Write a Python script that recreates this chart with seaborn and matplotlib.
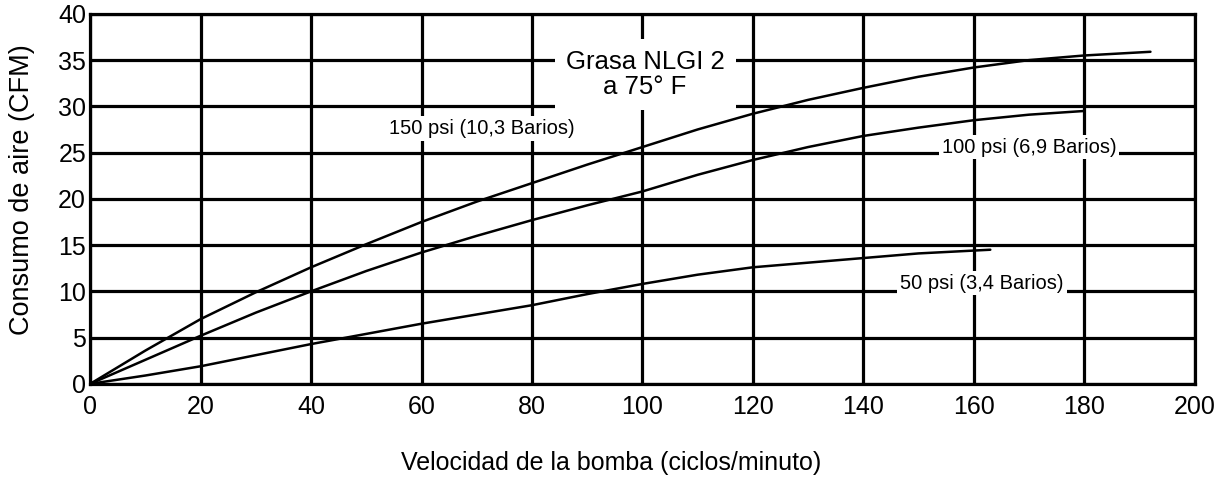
import matplotlib
matplotlib.use("Agg")
import matplotlib.pyplot as plt
import seaborn as sns
import pandas as pd

# Data
x_150 = [0, 10, 20, 30, 40, 50, 60, 70, 80, 90, 100, 110, 120, 130, 140, 150, 160, 170, 180, 192]
y_150 = [0, 3.6, 7.0, 9.9, 12.6, 15.1, 17.5, 19.7, 21.7, 23.7, 25.6, 27.5, 29.2, 30.7, 32.0, 33.2, 34.2, 35.0, 35.5, 35.9]
x_100 = [0, 10, 20, 30, 40, 50, 60, 70, 80, 90, 100, 110, 120, 130, 140, 150, 160, 170, 180]
y_100 = [0, 2.6, 5.2, 7.7, 10.0, 12.2, 14.2, 16.0, 17.7, 19.3, 20.8, 22.6, 24.2, 25.6, 26.8, 27.7, 28.5, 29.1, 29.5]
x_50 = [0, 10, 20, 30, 40, 50, 60, 70, 80, 90, 100, 110, 120, 130, 140, 150, 163]
y_50 = [0, 0.9, 1.9, 3.1, 4.3, 5.4, 6.5, 7.5, 8.5, 9.7, 10.8, 11.8, 12.6, 13.1, 13.6, 14.1, 14.5]
series_names = ["150 psi (10,3 Barios)", "100 psi (6,9 Barios)", "50 psi (3,4 Barios)"]
x_ticks = [0, 20, 40, 60, 80, 100, 120, 140, 160, 180, 200]
y_ticks = [0, 5, 10, 15, 20, 25, 30, 35, 40]
x_label = "Velocidad de la bomba (ciclos/minuto)"
y_label = "Consumo de aire (CFM)"
note = "Grasa NLGI 2\na 75° F"

df = pd.concat([
    pd.DataFrame({"x": x_150, "y": y_150, "serie": series_names[0]}),
    pd.DataFrame({"x": x_100, "y": y_100, "serie": series_names[1]}),
    pd.DataFrame({"x": x_50, "y": y_50, "serie": series_names[2]}),
])

sns.set_style("white")
plt.rcParams["font.family"] = ["Liberation Sans", "DejaVu Sans"]
plt.rcParams["text.color"] = "black"
plt.rcParams["axes.labelcolor"] = "black"
plt.rcParams["xtick.color"] = "black"
plt.rcParams["ytick.color"] = "black"

fig = plt.figure(figsize=(12.19, 4.78), dpi=100)
ax = fig.add_axes([0.074, 0.197, 0.906, 0.774])

ax.set_xlim(0, 200)
ax.set_ylim(0, 40)
ax.set_xticks(x_ticks)
ax.set_yticks(y_ticks)
ax.grid(True, color="black", linewidth=2.3)
ax.set_axisbelow(True)
for s in ax.spines.values():
    s.set_color("black")
    s.set_linewidth(2.3)

sns.lineplot(data=df, x="x", y="y", hue="serie", palette=["black"] * 3,
             linewidth=1.8, legend=False, ax=ax, sort=False)

ax.tick_params(axis="both", length=0, labelsize=18, colors="black")
ax.tick_params(axis="x", pad=8)
ax.tick_params(axis="y", pad=3)
ax.set_xlabel(x_label, fontsize=18, color="black")
ax.set_ylabel(y_label, fontsize=19.5, color="black")
ax.xaxis.set_label_coords(0.472, -0.213)
ax.yaxis.set_label_coords(-0.0615, 0.524)
ax.xaxis.label.set_va("center")
ax.yaxis.label.set_va("center")

box = dict(facecolor="white", edgecolor="none", pad=2)
ax.text(71, 27.6, series_names[0], fontsize=14.5, ha="center", va="center", bbox=box, zorder=5, color="black")
ax.text(170, 25.6, series_names[1], fontsize=14.5, ha="center", va="center", bbox=box, zorder=5, color="black")
ax.text(161.5, 10.9, series_names[2], fontsize=14.5, ha="center", va="center", bbox=box, zorder=5, color="black")
ax.text(100.5, 33.4, note, fontsize=18.5, ha="center", va="center", linespacing=1.05, color="black",
        bbox=dict(facecolor="white", edgecolor="none", pad=8), zorder=5)

fig.savefig("out.png", dpi=100)
